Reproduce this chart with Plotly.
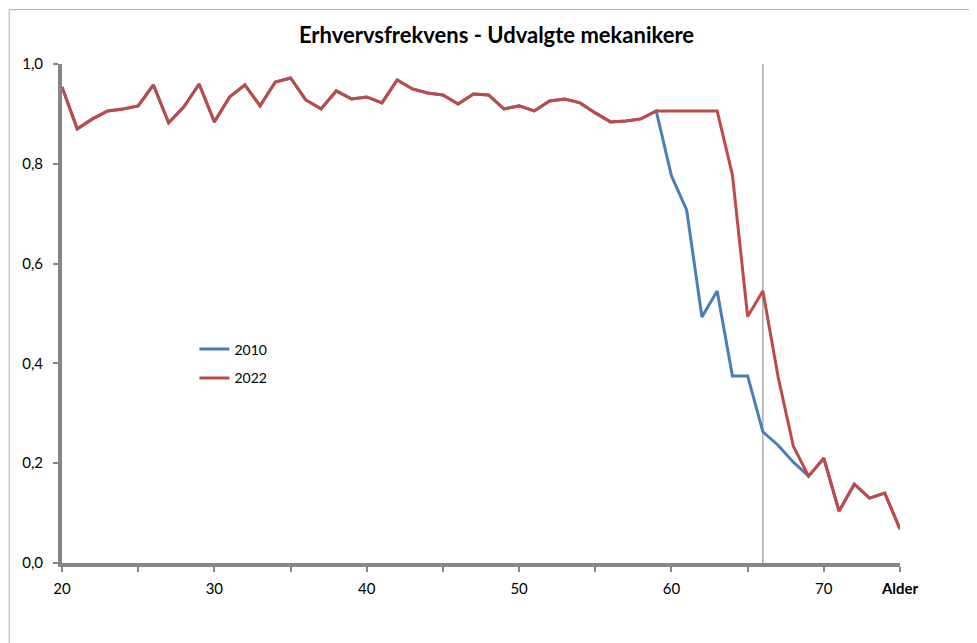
import plotly.graph_objects as go

# Erhvervsfrekvens by age (Alder), selected mechanics
ages = list(range(20, 76))

freq_2022 = [
    0.954, 0.870, 0.890, 0.906, 0.910, 0.916, 0.958, 0.882, 0.914, 0.960,  # 20-29
    0.884, 0.934, 0.958, 0.916, 0.964, 0.972, 0.928, 0.910, 0.946, 0.930,  # 30-39
    0.934, 0.922, 0.968, 0.950, 0.942, 0.938, 0.920, 0.940, 0.938, 0.910,  # 40-49
    0.916, 0.906, 0.926, 0.930, 0.922, 0.902, 0.884, 0.886, 0.890, 0.906,  # 50-59
    0.906, 0.906, 0.906, 0.906, 0.778, 0.494, 0.545, 0.373, 0.234, 0.174,  # 60-69
    0.210, 0.104, 0.158, 0.130, 0.140, 0.068,                              # 70-75
]

freq_2010 = freq_2022[:40] + [
    0.776, 0.707, 0.493, 0.545, 0.375, 0.375, 0.263, 0.236, 0.202, 0.174,  # 60-69
] + freq_2022[50:]

marker_age = 66  # vertical reference line

y_ticks = [0.0, 0.2, 0.4, 0.6, 0.8, 1.0]
y_tick_labels = ["0,0", "0,2", "0,4", "0,6", "0,8", "1,0"]
x_ticks = [20, 25, 30, 35, 40, 45, 50, 55, 60, 65, 70, 75]
x_tick_labels = ["20", "", "30", "", "40", "", "50", "", "60", "", "70", "<b>Alder</b>"]

FONT = "Lato, Open Sans, Liberation Sans, sans-serif"
AXIS_GREY = "#868686"

fig = go.Figure()
fig.add_trace(go.Scatter(
    x=ages, y=freq_2010, name="2010", mode="lines", showlegend=True,
    line=dict(color="#4A7EBB", width=3), legend="legend",
))
fig.add_trace(go.Scatter(
    x=ages, y=freq_2022, name="2022", mode="lines", showlegend=True,
    line=dict(color="#BE4B48", width=3), legend="legend2",
))

fig.add_shape(type="line", xref="x", yref="paper", x0=marker_age, x1=marker_age,
              y0=0, y1=1, line=dict(color="#808080", width=1), layer="below")
# chart-area border
fig.add_shape(type="rect", xref="paper", yref="paper", x0=-0.063, x1=1.0895,
              y0=-0.25, y1=1.109, line=dict(color="#b0b0b0", width=1))

legend_style = dict(x=0.158, xanchor="left", yanchor="top", bgcolor="rgba(0,0,0,0)",
                    font=dict(family=FONT, size=14, color="#000000"))

axis_style = dict(
    showline=True, linecolor=AXIS_GREY, linewidth=4, ticks="outside",
    tickcolor=AXIS_GREY, tickwidth=2, ticklen=5, showgrid=False, zeroline=False,
    tickfont=dict(family=FONT, size=15, color="#000000"),
)
fig.update_xaxes(range=[20, 75], tickvals=x_ticks, ticktext=x_tick_labels,
                 ticklabelstandoff=4, **axis_style)
fig.update_yaxes(range=[0, 1], tickvals=y_ticks, ticktext=y_tick_labels,
                 ticklabelstandoff=7, **axis_style)

fig.update_layout(
    width=977, height=643,
    showlegend=True,
    title=dict(text="<b>Erhvervsfrekvens - Udvalgte mekanikere</b>",
               x=0.5, xanchor="center", xref="container",
               y=0.958, yanchor="middle", yref="container",
               font=dict(family=FONT, size=22, color="#000000")),
    margin=dict(l=54, r=85, t=56, b=88),
    plot_bgcolor="white", paper_bgcolor="white",
    legend=dict(y=0.460, **legend_style),
    legend2=dict(y=0.402, **legend_style),
)

fig.write_html("out.html")
